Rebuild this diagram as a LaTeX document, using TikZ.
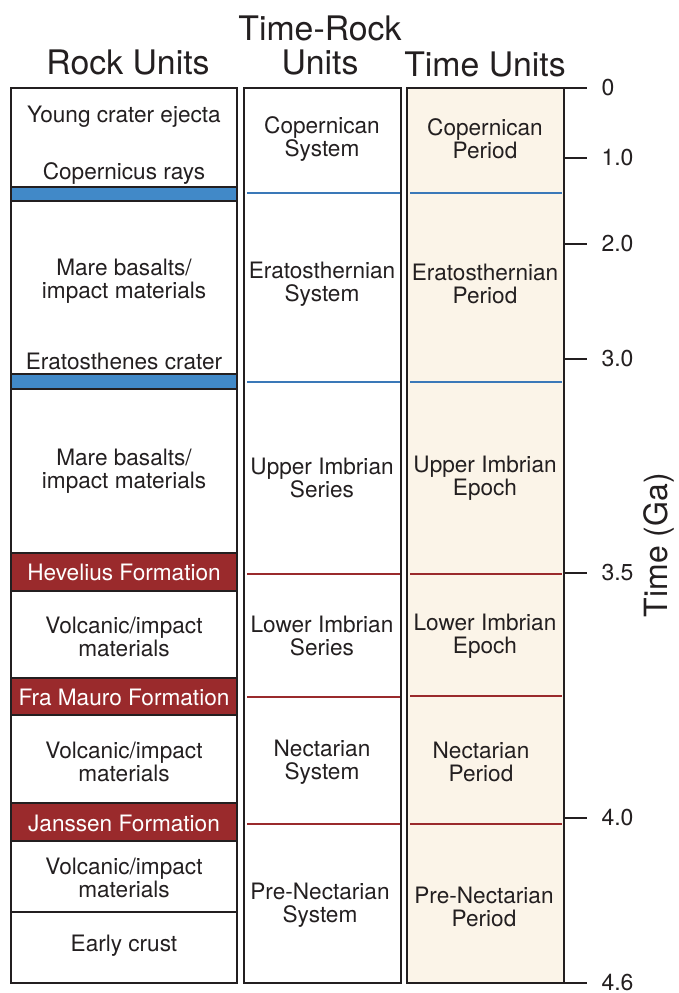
\documentclass[tikz,border=0pt]{standalone}
\usepackage{fontspec}
\setmainfont{TeX Gyre Heros}
\definecolor{edgegray}{HTML}{231F20}
\definecolor{rayblue}{HTML}{4189C8}
\definecolor{lineblue}{HTML}{3A78B8}
\definecolor{formred}{HTML}{9A2A2C}
\definecolor{periodtan}{HTML}{FBF4E8}
\begin{document}
\begin{tikzpicture}[x=1pt, y=-1pt]
    % Define styles
    \tikzset{
        columnbox/.style={draw=edgegray, line width=2.4pt},
        bluebed/.style={draw=edgegray, fill=rayblue, line width=2pt},
        redbed/.style={draw=edgegray, fill=formred, line width=2pt},
        bluebound/.style={draw=lineblue, line width=2pt},
        redbound/.style={draw=formred, line width=2pt},
        unittext/.style={align=center, font=\fontsize{22.6}{23}\selectfont, text=edgegray},
        bedtext/.style={unittext, text=white},
        headtext/.style={align=center, font=\fontsize{33.8}{34}\selectfont, text=edgegray},
        ticktext/.style={anchor=west, font=\fontsize{23}{24}\selectfont, text=edgegray}
    }
    \useasboundingbox (0,0) rectangle (678,993);

    % Column headers
    \node[headtext] (rockhead) at (128,62) {Rock Units};
    \node[headtext] (timerockhead) at (320,45) {Time-Rock\\Units};
    \node[headtext] (timehead) at (485,64) {Time Units};

    % Time units background
    \fill[periodtan] (407,88) rectangle (564,983);

    % Marker beds in the rock column
    \draw[bluebed] (11,187) rectangle (237,201);
    \draw[bluebed] (11,374) rectangle (237,389);
    \draw[redbed] (11,553) rectangle (237,591);
    \draw[redbed] (11,678) rectangle (237,715);
    \draw[redbed] (11,803) rectangle (237,841);
    \draw[edgegray, line width=2pt] (11,912) -- (237,912);

    % Boundaries in the time-rock and time columns
    \draw[bluebound] (247,193) -- (400,193);
    \draw[bluebound] (410,193) -- (562,193);
    \draw[bluebound] (247,382) -- (400,382);
    \draw[bluebound] (410,382) -- (562,382);
    \draw[redbound] (247,574) -- (400,574);
    \draw[redbound] (410,574) -- (562,574);
    \draw[redbound] (247,697) -- (400,697);
    \draw[redbound] (410,696) -- (562,696);
    \draw[redbound] (247,824) -- (400,824);
    \draw[redbound] (410,824) -- (562,824);

    % Column outlines
    \draw[columnbox] (11,88) rectangle (237,983);
    \draw[columnbox] (244,88) rectangle (401,983);
    \draw[columnbox] (407,88) rectangle (564,983);

    % Rock units
    \node[unittext] (young) at (124,117) {Young crater ejecta};
    \node[unittext] (coprays) at (124,174) {Copernicus rays};
    \node[unittext] (mare1) at (124,281) {Mare basalts/\\impact materials};
    \node[unittext] (eratos) at (124,361) {Eratosthenes crater};
    \node[unittext] (mare2) at (124,471) {Mare basalts/\\impact materials};
    \node[bedtext] (hevelius) at (124,572) {Hevelius Formation};
    \node[unittext] (volc1) at (124,637) {Volcanic/impact\\materials};
    \node[bedtext] (framauro) at (124,697) {Fra Mauro Formation};
    \node[unittext] (volc2) at (124,762) {Volcanic/impact\\materials};
    \node[bedtext] (janssen) at (124,823) {Janssen Formation};
    \node[unittext] (volc3) at (124,878) {Volcanic/impact\\materials};
    \node[unittext] (crust) at (124,946) {Early crust};

    % Time-rock units
    \node[unittext] (copsys) at (322,139) {Copernican\\System};
    \node[unittext] (erasys) at (322,284) {Eratosthernian\\System};
    \node[unittext] (upperser) at (322,478) {Upper Imbrian\\Series};
    \node[unittext] (lowerser) at (322,636) {Lower Imbrian\\Series};
    \node[unittext] (necsys) at (322,762) {Nectarian\\System};
    \node[unittext] (prenecsys) at (320,905) {Pre-Nectarian\\System};

    % Time units
    \node[unittext] (copper) at (485,139) {Copernican\\Period};
    \node[unittext] (eraper) at (485,284) {Eratosthernian\\Period};
    \node[unittext] (upperep) at (485,478) {Upper Imbrian\\Epoch};
    \node[unittext] (lowerep) at (485,636) {Lower Imbrian\\Epoch};
    \node[unittext] (necper) at (481,762) {Nectarian\\Period};
    \node[unittext] (prenecper) at (484,907) {Pre-Nectarian\\Period};

    % Time scale ticks
    \foreach \age/\ypos in {0/88, 1.0/158, 2.0/244, 3.0/359, 3.5/573, 4.0/818, 4.6/983} {
        \draw[edgegray, line width=2pt] (564,\ypos) -- (587,\ypos);
        \node[ticktext] at (598,\ypos) {\age};
    }
    \node[headtext, rotate=90, font=\fontsize{32}{33}\selectfont] (timeaxis) at (659,545) {Time (Ga)};

\end{tikzpicture}
\end{document}
